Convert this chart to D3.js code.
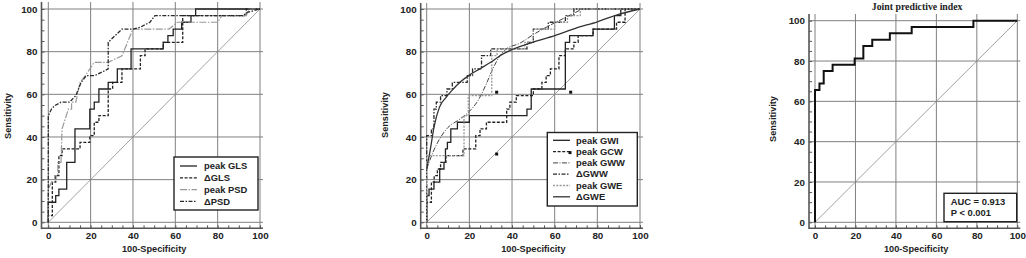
<!DOCTYPE html>
<html>
<head>
<meta charset="utf-8">
<script src="https://cdn.jsdelivr.net/npm/d3@7"></script>
<style>
body { margin: 0; background: #fff; }
svg text { font-family: "Liberation Sans", Arial, sans-serif; font-weight: bold; fill: #222; }
</style>
</head>
<body>
<svg id="chart" width="1026" height="258"></svg>
<script>
// ticks
const majorTicks = [0, 20, 40, 60, 80, 100];
const minorTicks = d3.range(0, 101, 5);
const xTitle = '100-Specificity';
const yTitle = 'Sensitivity';

// panel 1 curves: [100-specificity, sensitivity]
const glsPeak = [[0,0],[0,9.4],[3.5,9.4],[3.5,12.5],[5,12.5],[5,15.6],[8.7,15.6],[8.7,28.1],[12.6,28.1],[12.6,43.8],[19.6,43.8],[19.6,53.1],[21.7,53.1],[21.7,56.3],[23.9,56.3],[23.9,62.5],[28.3,62.5],[28.3,65.6],[32.6,65.6],[32.6,71.9],[39.1,71.9],[39.1,81.3],[54.3,81.3],[54.3,84.4],[56.5,84.4],[56.5,87.5],[59,87.5],[59,90.6],[63,90.6],[63,93.8],[67.4,93.8],[67.4,96.9],[69.6,96.9],[69.6,100],[100,100]];
const glsDelta = [[0,0],[0,3.1],[1.9,3.1],[1.9,18.8],[3.5,18.8],[3.5,21.9],[5,21.9],[5,31.3],[6.5,31.3],[6.5,34.4],[15,34.4],[15,37.5],[19.6,37.5],[19.6,40.6],[21.7,40.6],[21.7,46.9],[23.9,46.9],[23.9,50],[28.3,50],[28.3,62.5],[30.4,62.5],[30.4,65.6],[34.8,65.6],[34.8,71.9],[43.5,71.9],[43.5,78.1],[45.7,78.1],[45.7,81.3],[54.3,81.3],[54.3,84.4],[63.5,84.4],[63.5,96.9],[93.5,96.9],[93.5,100],[100,100]];
const psdPeak = [[0,0],[0,15.6],[1.5,18.8],[3,18.8],[3,21.9],[4.5,21.9],[4.5,28.1],[6,28.1],[6.5,43.8],[8.5,50],[9.5,53.1],[11,53.1],[11,56.3],[13,56.3],[15,65.6],[17.5,68.8],[21.7,75],[28.3,75],[34.8,78.1],[40,90.6],[57,90.6],[61,93.8],[80,93.8],[82,96.9],[93.5,96.9],[95,100],[100,100]];
const psdDelta = [[0,0],[0,50],[1.5,53.1],[3,54.7],[6,56.3],[10,56.3],[13,59.4],[15.5,65.6],[18,68.8],[22,68.8],[28.3,71.9],[28.3,84.4],[34.8,90.6],[40,90.6],[43.5,91.5],[48,93.8],[50.4,96.9],[92,96.9],[94,98.4],[100,100]];
const legend1 = ['peak GLS', '\u0394GLS', 'peak PSD', '\u0394PSD'];

// panel 2 curves
const gwiPeak = [[0,0],[0,12.5],[1.1,12.5],[1.1,15.6],[3.4,15.6],[3.4,18.8],[6.1,18.8],[6.1,25],[8.1,25],[8.1,28.1],[8.8,28.1],[8.8,34.4],[9.7,34.4],[9.7,37.5],[11.3,37.5],[11.3,43.8],[14.4,43.8],[14.4,46.9],[20,46.9],[20,50],[47,50],[47,53.1],[49,53.1],[49,62.5],[65,62.5],[65,84.4],[67,84.4],[67,87.5],[78,87.5],[78,90.6],[88,90.6],[88,96.9],[91,96.9],[91,100],[100,100]];
const gcwPeak = [[0,0],[0,9.4],[2.2,9.4],[2.2,18.8],[3.5,18.8],[3.5,21.9],[5,21.9],[5,25],[6.5,25],[6.5,28.1],[9,28.1],[9,31.3],[17,31.3],[17,34.4],[23,34.4],[23,40.6],[25,40.6],[25,43.8],[28,43.8],[28,46.9],[37.5,46.9],[37.5,53.1],[39,53.1],[39,56.3],[42,56.3],[42,59.4],[50,59.4],[50,62.5],[54,62.5],[54,65.6],[56,65.6],[56,68.8],[58,68.8],[58,71.9],[62,71.9],[62,78.1],[65,78.1],[65,81.3],[69,81.3],[69,84.4],[71,84.4],[71,87.5],[78,87.5],[78,90.6],[89,90.6],[89,93.8],[93,93.8],[93,100],[100,100]];
const gcwMarks = [[32.8,61],[32.8,32],[67.5,61]];
const gwwPeak = [[0,25],[3,33],[6,39],[10,44.5],[15,48],[20,52],[24,57],[28,65],[31,72],[34,77.5],[37,81],[43.8,84],[50,88],[58,92.5],[65,96],[70,98.5],[73.5,100],[100,100]];
const gwwDelta = [[0,0],[0,40.6],[2.2,40.6],[2.2,43.8],[3.4,43.8],[3.4,53.1],[4.5,53.1],[4.5,56.3],[6.5,56.3],[6.5,59.4],[9.5,59.4],[9.5,62.5],[12,62.5],[12,65.6],[19,65.6],[19,68.8],[21.5,68.8],[21.5,71.9],[25.7,71.9],[25.7,78.1],[30,78.1],[30,81.3],[47,81.3],[47,84.4],[50,84.4],[50,90.6],[57,90.6],[57,93.8],[65,93.8],[65,96.9],[69,96.9],[69,100],[100,100]];
const gwePeak = [[0,0],[0,31.3],[17.5,31.3],[17.5,50],[19.5,50],[19.5,59.4],[30.5,59.4],[30.5,78.1],[33,78.1],[33,81.3],[46,81.3],[46,84.4],[50,84.4],[50,90.6],[60,90.6],[60,93.8],[66,93.8],[66,96.9],[72,96.9],[72,100],[100,100]];
const gweDelta = [[0,25],[1.5,33],[3.5,45],[6,54],[9,58.5],[12,62],[16,66],[20,69],[25,72],[30,75],[35,78.5],[40,81],[50,84.5],[60,87.5],[70,91],[80,94],[90,97.5],[100,100]];
const legend2 = ['peak GWI', 'peak GCW', 'peak GWW', '\u0394GWW', 'peak GWE', '\u0394GWE'];

// panel 3 curve
const jointIndex = [[0,0],[0,65.6],[2.2,65.6],[2.2,68.8],[4.3,68.8],[4.3,75],[8.7,75],[8.7,78.1],[19.6,78.1],[19.6,81.3],[23.9,81.3],[23.9,87.5],[28.3,87.5],[28.3,90.6],[37,90.6],[37,93.8],[47.8,93.8],[47.8,96.9],[78.3,96.9],[78.3,100],[100,100]];
const jointTitle = 'Joint predictive index';
const jointStats = ['AUC = 0.913', 'P < 0.001'];

// line styles
const sty = {
  solid:    { stroke: '#222', w: 1.3, dash: null },
  dashed:   { stroke: '#222', w: 1.3, dash: '3,1.6' },
  grayDD:   { stroke: '#999', w: 1.2, dash: '7,1.5,1.5,1.5' },
  dashDot:  { stroke: '#2a2a2a', w: 1.3, dash: '4,1.5,1.5,1.5' },
  thinDD:   { stroke: '#444', w: 1, dash: '5,1.5,1,1.5' },
  grayDot:  { stroke: '#999', w: 1.3, dash: '2,1.3' },
  smooth:   { stroke: '#333', w: 1.3, dash: null },
  thick:    { stroke: '#111', w: 2, dash: null }
};

const svg = d3.select('#chart');

const panels = [
  { x0: 48.3, x1: 260, y0: 222.3, y1: 9, axisX: 41.5, axisY: 228.3, top: 2, ytx: 8, yty: 116,
    series: [
      { data: glsPeak, s: sty.solid }, { data: glsDelta, s: sty.dashed },
      { data: psdPeak, s: sty.grayDD }, { data: psdDelta, s: sty.dashDot }
    ],
    legend: { x: 174, y: 157, w: 84, h: 53, rowY: 166, step: 11.8, lx0: 180, lx1: 197, tx: 204, labels: legend1 }
  },
  { x0: 426.7, x1: 640, y0: 222.3, y1: 9, axisX: 420.7, axisY: 228.3, top: 3, ytx: 385, yty: 115,
    series: [
      { data: gwiPeak, s: sty.solid }, { data: gcwPeak, s: sty.dashed },
      { data: gwwPeak, s: sty.thinDD, smooth: true }, { data: gwwDelta, s: sty.dashDot },
      { data: gwePeak, s: sty.grayDot }, { data: gweDelta, s: sty.smooth, smooth: true }
    ],
    marks: gcwMarks,
    legend: { x: 547.3, y: 132.5, w: 90, h: 73.5, rowY: 140.3, step: 11.3, lx0: 553, lx1: 570, tx: 576, labels: legend2, markRow: 1 }
  },
  { x0: 815, x1: 1017.3, y0: 222.3, y1: 20.7, axisX: 809, axisY: 228.3, top: 14, ytx: 773, yty: 119,
    series: [ { data: jointIndex, s: sty.thick } ],
    title: jointTitle,
    stats: { x: 944, y: 193.3, w: 72.7, h: 28.4, tx: 950.7, rows: [205.2, 215.8], labels: jointStats }
  }
];

function styleLine(sel, s) {
  sel.attr('fill', 'none').attr('stroke', s.stroke).attr('stroke-width', s.w);
  if (s.dash) sel.attr('stroke-dasharray', s.dash);
  return sel;
}

panels.forEach(p => {
  const g = svg.append('g');
  const x = d3.scaleLinear().domain([0, 100]).range([p.x0, p.x1]);
  const y = d3.scaleLinear().domain([0, 100]).range([p.y0, p.y1]);
  const right = x(100) + 3;

  // grid
  g.selectAll('line.vg').data(majorTicks).enter().append('line')
    .attr('x1', d => x(d)).attr('x2', d => x(d)).attr('y1', p.top).attr('y2', p.axisY)
    .attr('stroke', '#808080').attr('stroke-width', 1);
  g.selectAll('line.hg').data(majorTicks).enter().append('line')
    .attr('x1', p.axisX).attr('x2', right).attr('y1', d => y(d)).attr('y2', d => y(d))
    .attr('stroke', '#808080').attr('stroke-width', 1);

  // reference diagonal
  g.append('line').attr('x1', x(0)).attr('y1', y(0)).attr('x2', x(100)).attr('y2', y(100))
    .attr('stroke', '#8a8a8a').attr('stroke-width', 0.8);

  // axes: minor ticks inward, major labels
  g.append('g').attr('transform', `translate(0,${p.axisY})`).attr('color', '#555')
    .call(d3.axisBottom(x).tickValues(minorTicks).tickSize(-3).tickFormat(''))
    .call(a => a.select('.domain').remove());
  g.append('g').attr('transform', `translate(${p.axisX},0)`).attr('color', '#555')
    .call(d3.axisLeft(y).tickValues(minorTicks).tickSize(-3).tickFormat(''))
    .call(a => a.select('.domain').remove());
  g.append('g').attr('transform', `translate(0,${p.axisY})`)
    .call(d3.axisBottom(x).tickValues(majorTicks).tickSize(0).tickPadding(3.3))
    .call(a => a.select('.domain').remove())
    .attr('font-size', 9.8);
  g.append('g').attr('transform', `translate(${p.axisX},0)`)
    .call(d3.axisLeft(y).tickValues(majorTicks).tickSize(0).tickPadding(4))
    .call(a => a.select('.domain').remove())
    .attr('font-size', 9.8);

  g.append('line').attr('x1', p.axisX).attr('x2', p.axisX).attr('y1', p.top).attr('y2', p.axisY + 0.8)
    .attr('stroke', '#555').attr('stroke-width', 1.6);
  g.append('line').attr('x1', p.axisX).attr('x2', right).attr('y1', p.axisY).attr('y2', p.axisY)
    .attr('stroke', '#555').attr('stroke-width', 1.6);

  // titles
  g.append('text').attr('x', (p.x0 + p.x1) / 2).attr('y', 251.5).attr('text-anchor', 'middle')
    .attr('font-size', 9.2).text(xTitle);
  g.append('text').attr('transform', `translate(${p.ytx},${p.yty}) rotate(-90)`).attr('dy', '0.35em')
    .attr('text-anchor', 'middle').attr('font-size', 9.2).text(yTitle);
  if (p.title) {
    g.append('text').attr('x', (p.x0 + p.x1) / 2 + 1).attr('y', 9.5).attr('text-anchor', 'middle')
      .style('font-family', '"Liberation Serif", "Times New Roman", serif')
      .attr('font-size', 9.8).text(p.title);
  }

  // curves
  p.series.forEach(sr => {
    const line = d3.line().x(d => x(d[0])).y(d => y(d[1]))
      .curve(sr.smooth ? d3.curveMonotoneX : d3.curveLinear);
    styleLine(g.append('path').datum(sr.data).attr('d', line), sr.s);
  });

  if (p.marks) {
    g.selectAll('rect.mk').data(p.marks).enter().append('rect')
      .attr('x', d => x(d[0]) - 1.5).attr('y', d => y(d[1]) - 1.5)
      .attr('width', 3).attr('height', 3).attr('fill', '#111');
  }

  // legend
  if (p.legend) {
    const L = p.legend;
    g.append('rect').attr('x', L.x).attr('y', L.y).attr('width', L.w).attr('height', L.h)
      .attr('fill', '#fff').attr('stroke', '#222').attr('stroke-width', 1.4);
    L.labels.forEach((lab, i) => {
      const yy = L.rowY + i * L.step;
      styleLine(g.append('line').attr('x1', L.lx0).attr('x2', L.lx1).attr('y1', yy).attr('y2', yy), p.series[i].s);
      if (L.markRow === i) {
        g.append('rect').attr('x', L.lx1 - 1.5).attr('y', yy - 0.5).attr('width', 3).attr('height', 3).attr('fill', '#111');
      }
      g.append('text').attr('x', L.tx).attr('y', yy).attr('dy', '0.35em').attr('font-size', 9.4).text(lab);
    });
  }

  if (p.stats) {
    const S = p.stats;
    g.append('rect').attr('x', S.x).attr('y', S.y).attr('width', S.w).attr('height', S.h)
      .attr('fill', '#fff').attr('stroke', '#222').attr('stroke-width', 1.4);
    S.labels.forEach((lab, i) => {
      g.append('text').attr('x', S.tx).attr('y', S.rows[i]).attr('font-size', 9.4).text(lab);
    });
  }
});
</script>
</body>
</html>
